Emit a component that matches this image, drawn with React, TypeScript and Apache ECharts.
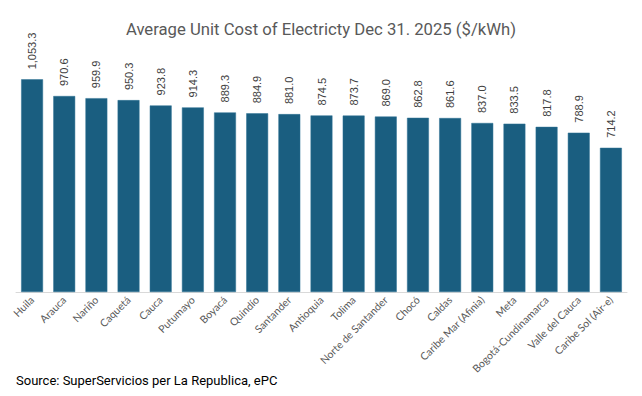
import React, { useEffect, useRef } from "react";
import * as echarts from "echarts";

const categories = [
  "Huila", "Arauca", "Nariño", "Caquetá", "Cauca", "Putumayo", "Boyacá", "Quindío",
  "Santander", "Antioquia", "Tolima", "Norte de Santander", "Chocó", "Caldas",
  "Caribe Mar (Afinia)", "Meta", "Bogotá-Cundinamarca", "Valle del Cauca", "Caribe Sol (Air-e)",
];
const values = [
  1053.3, 970.6, 959.9, 950.3, 923.8, 914.3, 889.3, 884.9, 881.0, 874.5,
  873.7, 869.0, 862.8, 861.6, 837.0, 833.5, 817.8, 788.9, 714.2,
];
const titleText = "Average Unit Cost of Electricty Dec 31. 2025 ($/kWh)";
const sourceText = "Source: SuperServicios per La Republica, ePC";

const fmt = (v: number) =>
  v.toLocaleString("en-US", { minimumFractionDigits: 1, maximumFractionDigits: 1 });

export default function App() {
  const ref = useRef<HTMLDivElement>(null);
  useEffect(() => {
    if (!ref.current) return;
    const chart = echarts.init(ref.current, null, { renderer: "svg" });
    chart.setOption({
      animation: false,
      backgroundColor: "#ffffff",
      title: {
        text: titleText,
        left: "center",
        top: 16,
        textStyle: { fontFamily: "Roboto", fontSize: 16.7, fontWeight: "normal", color: "#595959" },
      },
      graphic: [
        {
          type: "text",
          left: 16,
          top: 374,
          style: { text: sourceText, font: "13px Roboto", fill: "#000000" },
        },
      ],
      grid: { left: 16, right: 15, top: 49.7, bottom: 104, containLabel: false },
      xAxis: {
        type: "category",
        data: categories,
        axisLine: { lineStyle: { color: "#d9d9d9", width: 1 } },
        axisTick: { show: false },
        axisLabel: {
          rotate: 45,
          interval: 0,
          color: "#595959",
          fontFamily: "Lato",
          fontSize: 10.5,
          margin: 6,
        },
      },
      yAxis: { type: "value", min: 0, max: 1200, show: false, splitLine: { show: false } },
      series: [
        {
          type: "bar",
          data: values,
          barWidth: "68%",
          itemStyle: { color: "#1a5e80", borderColor: "#2f7394", borderWidth: 0.5 },
          label: {
            show: true,
            position: "top",
            rotate: 90,
            align: "left",
            verticalAlign: "middle",
            distance: 10,
            color: "#404040",
            fontFamily: "Liberation Sans",
            fontSize: 11,
            formatter: (p: any) => fmt(p.value),
          },
        },
      ],
    });
    return () => chart.dispose();
  }, []);
  return <div ref={ref} style={{ width: 642, height: 396, position: "absolute", left: 0, top: 0 }} />;
}
